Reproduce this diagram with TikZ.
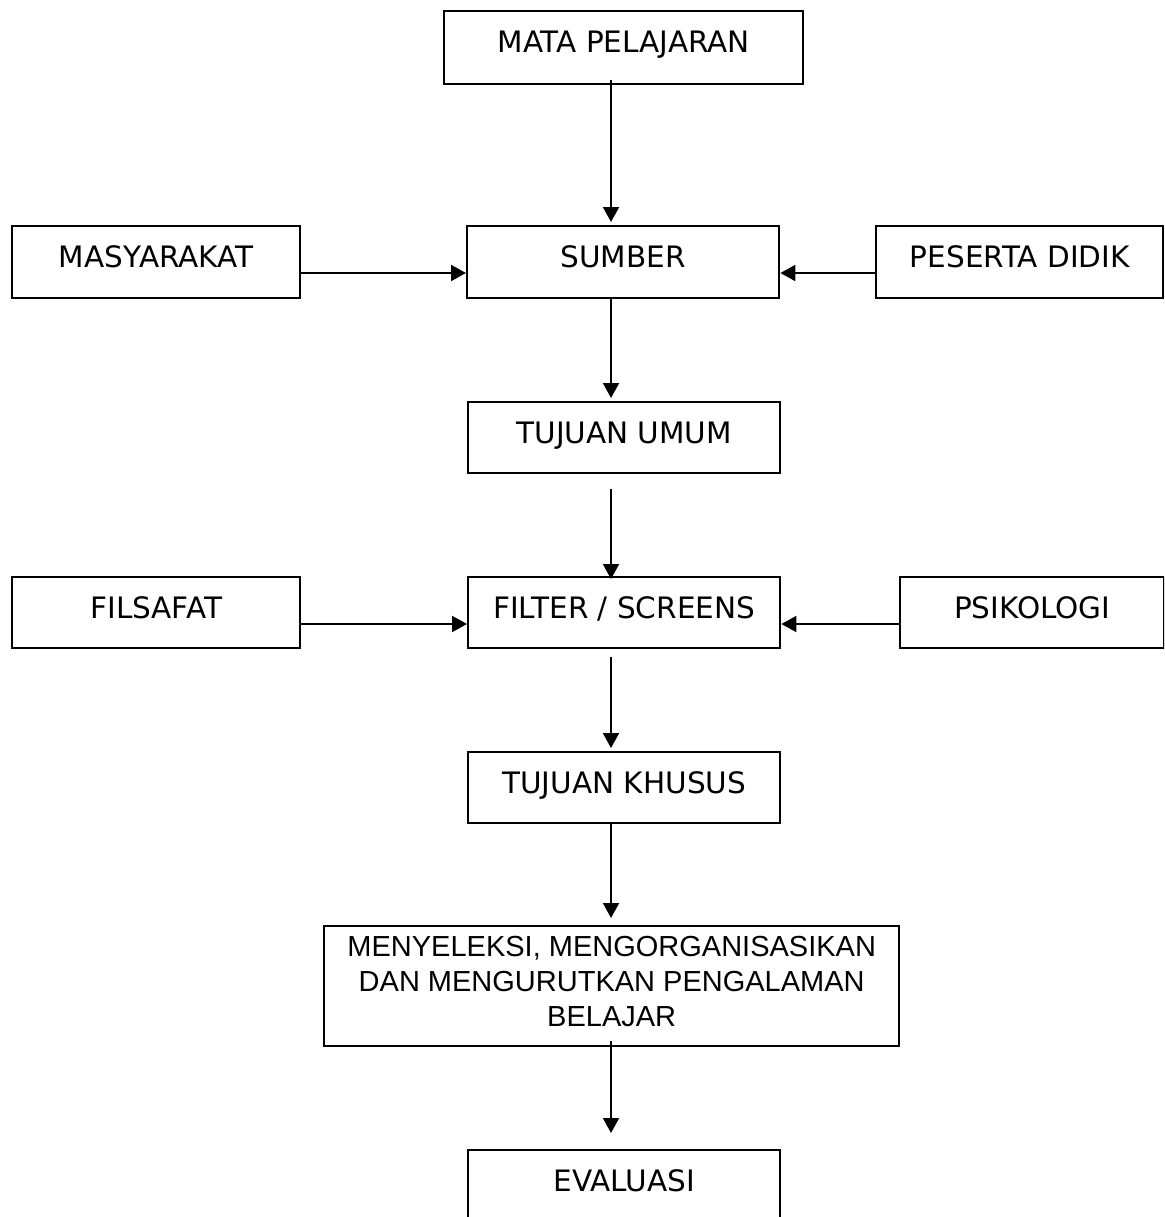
\documentclass[tikz,border=0pt]{standalone}
\usepackage{fontspec}
\setmainfont{DejaVu Sans}
\newfontfamily\arialfont{Liberation Sans}
\usetikzlibrary{arrows.meta}
\begin{document}
\begin{tikzpicture}[x=1pt,y=-1pt,
  box/.style={draw, line width=2.4pt, inner sep=0pt, anchor=north west,
    text height=41pt, text depth=30pt, font=\fontsize{29.5}{34}\selectfont},
  arr/.style={line width=2pt, -{Triangle[length=15pt,width=16pt]}}]
\useasboundingbox (0,0) rectangle (1164,1217);
\clip (0,0) rectangle (1164,1217);
\fill[white] (0,0) rectangle (1164,1217);
% boxes
\node[box, minimum width=359pt, text depth=32pt] (mata) at (443,10) {MATA PELAJARAN};
\node[box, minimum width=288pt, text depth=31pt] (masy) at (11,225) {MASYARAKAT};
\node[box, minimum width=312pt, text depth=31pt] (sumber) at (466,225) {SUMBER};
\node[box, minimum width=287pt, text depth=31pt] (peserta) at (875,225) {PESERTA DIDIK};
\node[box, minimum width=312pt] (umum) at (467,401) {TUJUAN UMUM};
\node[box, minimum width=288pt] (filsafat) at (11,576) {FILSAFAT};
\node[box, minimum width=312pt] (filter) at (467,576) {FILTER / SCREENS};
\node[box, minimum width=264pt] (psiko) at (899,576) {PSIKOLOGI};
\node[box, minimum width=312pt] (khusus) at (467,751) {TUJUAN KHUSUS};
\node[draw, line width=2.4pt, inner sep=0pt, anchor=north west, minimum width=575pt,
  minimum height=120pt, text depth=10pt, align=center, font=\arialfont\fontsize{29}{35}\selectfont]
  (seleksi) at (323,925) {MENYELEKSI, MENGORGANISASIKAN\\DAN MENGURUTKAN PENGALAMAN\\BELAJAR};
\node[box, minimum width=312pt] (eval) at (467,1149) {EVALUASI};
% axes for connectors
\coordinate (ax) at (611,0);
\coordinate (r1) at (0,273);
\coordinate (r2) at (0,624);
% vertical connectors
\draw[arr, shorten <=-5pt, shorten >=3pt] (mata.south -| ax) -- (sumber.north -| ax);
\draw[arr, shorten >=3pt] (sumber.south -| ax) -- (umum.north -| ax);
\draw[arr, shorten <=15pt, shorten >=-3pt] (umum.south -| ax) -- (filter.north -| ax);
\draw[arr, shorten <=8pt, shorten >=3pt] (filter.south -| ax) -- (khusus.north -| ax);
\draw[arr, shorten >=7pt] (khusus.south -| ax) -- (seleksi.north -| ax);
\draw[arr, shorten <=-6pt, shorten >=16pt] (seleksi.south -| ax) -- (eval.north -| ax);
% horizontal connectors
\draw[arr] (masy.east |- r1) -- (sumber.west |- r1);
\draw[arr] (peserta.west |- r1) -- (sumber.east |- r1);
\draw[arr] (filsafat.east |- r2) -- (filter.west |- r2);
\draw[arr] (psiko.west |- r2) -- (filter.east |- r2);
\end{tikzpicture}
\end{document}
